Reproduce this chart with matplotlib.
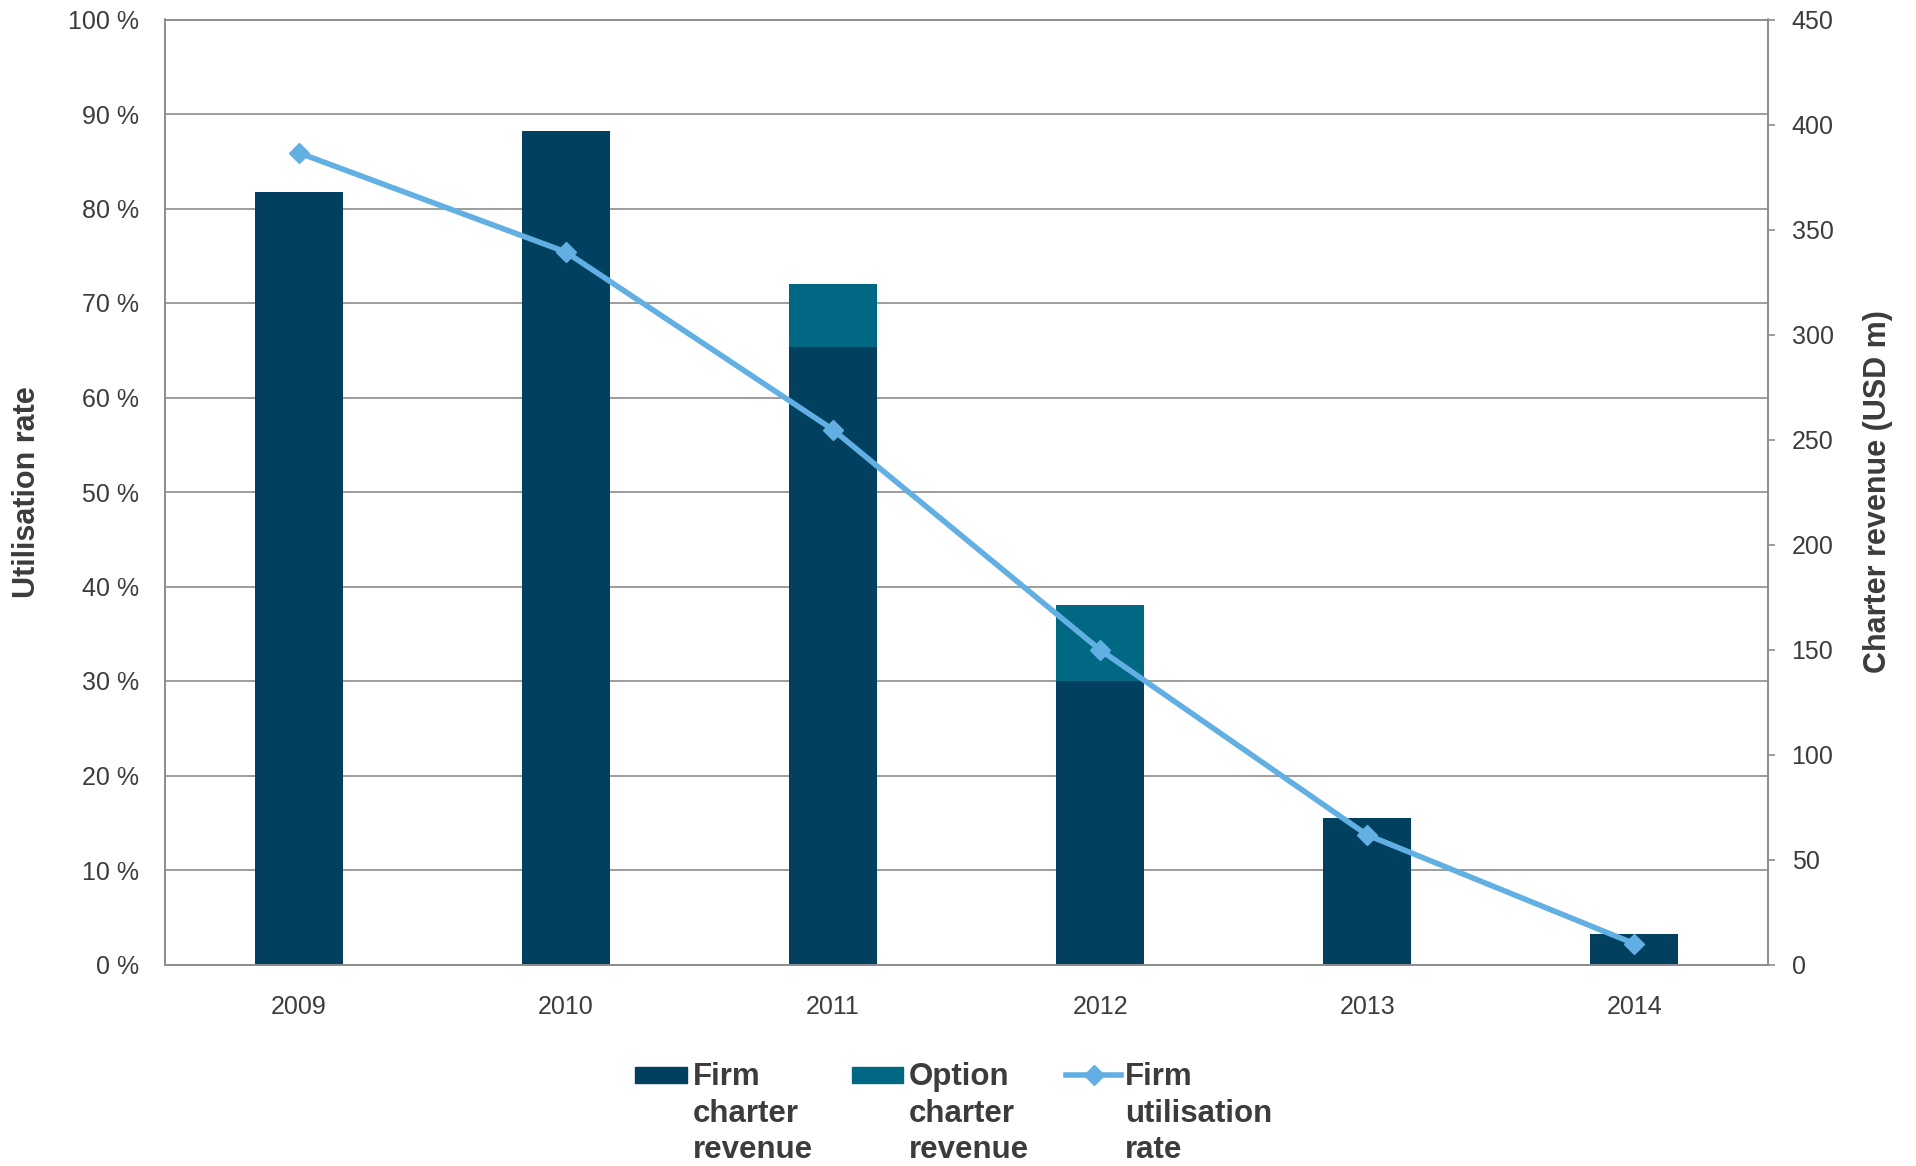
import numpy as np
import matplotlib
matplotlib.use('Agg')
from matplotlib import pyplot as plt
from matplotlib.patches import Rectangle
from matplotlib.lines import Line2D
from matplotlib import font_manager


years = ['2009', '2010', '2011', '2012', '2013', '2014']
firm_revenue = [368, 397, 294, 135, 70, 14.6]      # USD m
option_revenue = [0, 0, 30, 36, 0, 0]              # USD m
firm_util = [85.9, 75.4, 56.6, 33.3, 13.7, 2.2]    # %

c_firm = '#02405F'
c_option = '#006882'
c_line = '#62B0E3'
c_grid = '#8C8C8C'
c_text = '#3C3C3C'

W, H = 1916, 1166
plt.rcParams['font.family'] = ['Liberation Sans', 'DejaVu Sans']

names = set(f.name for f in font_manager.fontManager.ttflist)
if 'Liberation Sans Narrow' in names:
    lab_font = dict(family='Liberation Sans Narrow', fontsize=27)
else:
    lab_font = dict(family='Liberation Sans', fontsize=22)

fig = plt.figure(figsize=(W / 100, H / 100), dpi=100)
ax = fig.add_axes([165 / W, 1 - 964.5 / H, 1603 / W, 945 / H])
ax2 = ax.twinx()

x = np.arange(len(years))

# bars on the revenue axis (behind), line on the utilisation axis (front)
ax.set_zorder(ax2.get_zorder() + 1)
ax.patch.set_visible(False)

ax2.bar(x, firm_revenue, width=0.33, color=c_firm, zorder=2)
ax2.bar(x, option_revenue, width=0.33, bottom=firm_revenue, color=c_option, zorder=2)
ax.plot(x, firm_util, color=c_line, lw=4, marker='D', ms=10, zorder=3)

ax.set_xlim(-0.5, len(years) - 0.5)
ax.set_ylim(0, 100)
ax2.set_ylim(0, 450)

ax.set_yticks(np.arange(0, 101, 10))
ax.set_yticklabels([f'{v} %' for v in range(0, 101, 10)])
ax.set_xticks(x)
ax.set_xticklabels(years)
ax2.set_yticks(np.arange(0, 451, 50))

# horizontal grid at the 10 % steps, drawn on the back axis
ax2.set_yticks(np.arange(0, 451, 45), minor=True)
ax2.grid(which='minor', axis='y', color=c_grid, lw=1.2, zorder=0)
ax2.tick_params(which='minor', length=0)

ax.tick_params(axis='y', length=0, pad=18.5, labelsize=18, labelcolor=c_text)
ax.tick_params(axis='x', length=0, pad=22, labelsize=18, labelcolor=c_text)
ax2.tick_params(axis='y', which='major', direction='out', length=5, width=1.2,
                color=c_grid, pad=12, labelsize=18, labelcolor=c_text)

for a in (ax, ax2):
    for s in a.spines.values():
        s.set_color(c_grid)
        s.set_linewidth(1.2)

fig.text(27 / W, 1 - 492 / H, 'Utilisation rate', rotation=90, ha='center', va='center',
         weight='bold', color=c_text, **lab_font)
fig.text(1878 / W, 1 - 492 / H, 'Charter revenue (USD m)', rotation=90, ha='center',
         va='center', weight='bold', color=c_text, **lab_font)

# legend
tf = fig.transFigure
fig.patches.append(Rectangle((635 / W, 1 - 1083 / H), 52 / W, 16 / H, color=c_firm, transform=tf))
fig.patches.append(Rectangle((852 / W, 1 - 1083 / H), 51 / W, 16 / H, color=c_option, transform=tf))
fig.lines.append(Line2D([1066 / W, 1093.5 / W, 1121 / W], [1 - 1075 / H] * 3, color=c_line,
                        lw=4, marker='D', ms=10, markevery=[1], transform=tf))
leg_labels = ['Firm\ncharter\nrevenue', 'Option\ncharter\nrevenue', 'Firm\nutilisation\nrate']
for xl, lab in zip([693, 909, 1125], leg_labels):
    fig.text(xl / W, 1 - 1062 / H, lab, ha='left', va='top', fontsize=22.5,
             weight='bold', color=c_text, linespacing=1.29)

fig.savefig('out.png', dpi=100)
